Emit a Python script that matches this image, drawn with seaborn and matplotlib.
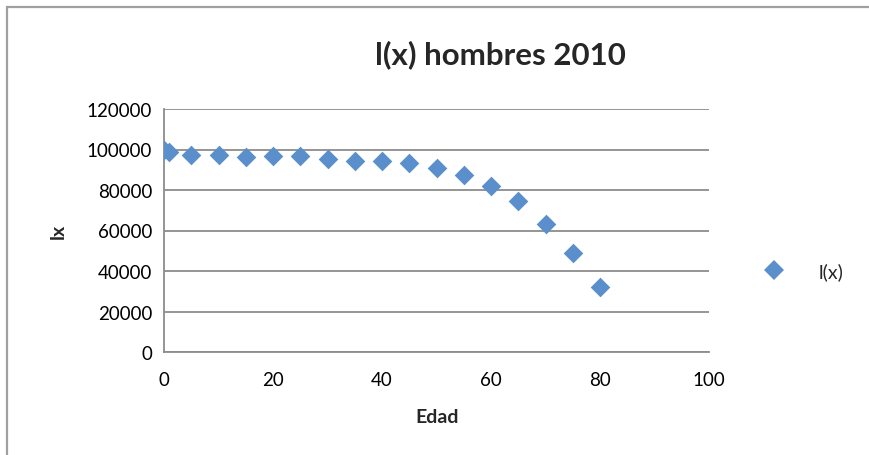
import matplotlib
matplotlib.use("Agg")
import matplotlib.pyplot as plt
import seaborn as sns
import pandas as pd
from matplotlib.patches import Rectangle
from matplotlib.lines import Line2D

edad = [0, 1, 5, 10, 15, 20, 25, 30, 35, 40, 45, 50, 55, 60, 65, 70, 75, 80]
lx = [100000, 98600, 97400, 97300, 96300, 96700, 96700, 95400, 94300, 94100,
      93400, 90900, 87500, 82200, 74400, 63200, 48800, 32100]
x_ticks = [0, 20, 40, 60, 80, 100]
y_ticks = [0, 20000, 40000, 60000, 80000, 100000, 120000]
title = "l(x) hombres 2010"
series_name = "l(x)"

df = pd.DataFrame({"Edad": edad, "lx": lx})

sns.set_theme(style="white")
plt.rcParams["font.family"] = ["Lato", "DejaVu Sans"]

W, H = 869, 456
fig = plt.figure(figsize=(W / 100, H / 100), dpi=100)
L, R, T, B = 164, 709, 110, 353
ax = fig.add_axes([L / W, 1 - B / H, (R - L) / W, (B - T) / H])

color = "#5A8FCC"
sns.scatterplot(data=df, x="Edad", y="lx", ax=ax, marker="D", s=100,
                color=color, linewidth=0, legend=False, zorder=3)

ax.set_xlim(0, 100)
ax.set_ylim(0, 120000)
ax.set_xticks(x_ticks)
ax.set_yticks(y_ticks)
ax.set_xticklabels([str(v) for v in x_ticks])
ax.set_yticklabels([str(v) for v in y_ticks])
grid_c = "#8C8C8C"
ax.grid(axis="y", color=grid_c, linewidth=1.3)
ax.grid(axis="x", visible=False)
ax.set_axisbelow(True)
for s in ["top", "right"]:
    ax.spines[s].set_visible(False)
for s in ["left", "bottom"]:
    ax.spines[s].set_color(grid_c)
    ax.spines[s].set_linewidth(1.3)
ax.tick_params(axis="both", length=0, labelsize=13.5, colors="black")
ax.tick_params(axis="y", pad=8.5)
ax.tick_params(axis="x", pad=14)

ax.set_xlabel("Edad", fontsize=14, fontweight="bold")
ax.set_ylabel("lx", fontsize=14, fontweight="bold")
ax.xaxis.set_label_coords(0.501, -0.232)
ax.yaxis.set_label_coords(-0.178, 0.5)

fig.text(500 / W, 1 - 55 / H, title, ha="center", va="center",
         fontsize=22.5, fontweight="bold")

handle = Line2D([], [], marker="D", linestyle="none", markersize=10,
                markerfacecolor=color, markeredgewidth=0)
fig.legend([handle], [series_name], loc="center left",
           bbox_to_anchor=(764 / W, 1 - 272 / H), frameon=False,
           fontsize=14, handlelength=1.0, handletextpad=1.8,
           borderpad=0, borderaxespad=0)

fig.patches.append(Rectangle((7 / W, -0.1), 1.2, (H - 8) / H + 0.1,
                             transform=fig.transFigure, fill=False,
                             edgecolor="#A0A0A0", linewidth=1.6))

fig.savefig("out.png", dpi=100)
